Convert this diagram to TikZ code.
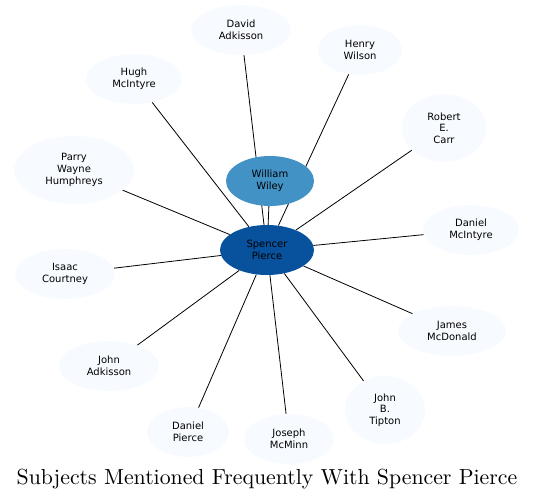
\documentclass[tikz,border=0pt]{standalone}
\usepackage{fontspec}
\newfontfamily\namefont{DejaVu Sans}
\usetikzlibrary{shapes.geometric,backgrounds}
\definecolor{pale}{HTML}{F7FBFF}
\definecolor{midblue}{HTML}{4292C6}
\definecolor{deepblue}{HTML}{08519C}
\tikzset{
    person/.style={ellipse, fill=pale, align=center, inner sep=0pt, font=\namefont\fontsize{10}{11.7}\selectfont},
    axes/.style 2 args={minimum width=#1pt, minimum height=#2pt},
    link/.style={line width=0.8pt},
}
\begin{document}
\begin{tikzpicture}[x=1pt,y=-1pt]
    \useasboundingbox (0,0) rectangle (535,500);
    \node[person,fill=deepblue,axes={94}{50}] (SP) at (267,250) {Spencer\\Pierce};
    \node[person,fill=midblue,axes={88}{50}] (WW) at (270,181) {William\\Wiley};
    \node[person,axes={100}{50}] (DA) at (241,30) {David\\Adkisson};
    \node[person,axes={84}{50}] (HW) at (360,50) {Henry\\Wilson};
    \node[person,axes={96}{50}] (HM) at (134,79) {Hugh\\McIntyre};
    \node[person,axes={84}{68}] (RC) at (444,128) {Robert\\E.\\Carr};
    \node[person,axes={120}{68}] (PH) at (74,170) {Parry\\Wayne\\Humphreys};
    \node[person,axes={96}{50}] (DM) at (471,230) {Daniel\\McIntyre};
    \node[person,axes={100}{50}] (IC) at (65,274) {Isaac\\Courtney};
    \node[person,axes={108}{50}] (JM) at (452,331) {James\\McDonald};
    \node[person,axes={100}{50}] (JA) at (109,366) {John\\Adkisson};
    \node[person,axes={80}{68}] (JT) at (385,410) {John\\B.\\Tipton};
    \node[person,axes={82}{50}] (DP) at (188,432) {Daniel\\Pierce};
    \node[person,axes={90}{50}] (JMM) at (289,439) {Joseph\\McMinn};
    \node[scale=2.18,inner sep=0pt] (title) at (267,479) {Subjects Mentioned Frequently With Spencer Pierce};
    \begin{pgfonlayer}{background}
        \draw[link] (SP) -- (WW);
        \foreach \n in {DA,HW,HM,RC,PH,DM,IC,JM,JA,JT,DP,JMM}
            \draw[link] (SP) -- (\n);
    \end{pgfonlayer}
\end{tikzpicture}
\end{document}
